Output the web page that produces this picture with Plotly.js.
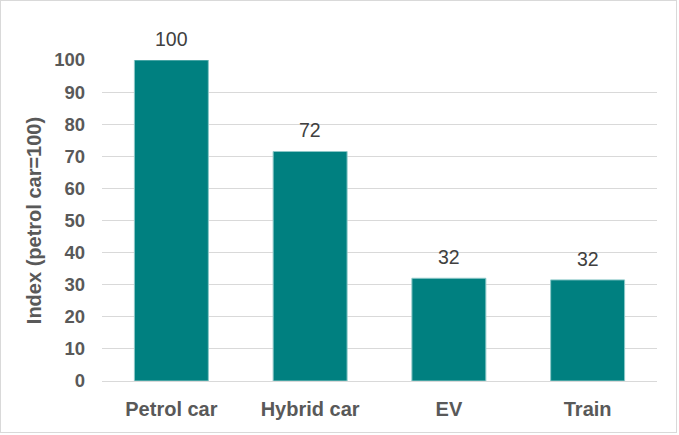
<!DOCTYPE html>
<html>
<head>
<meta charset="utf-8">
<script src="https://cdn.plot.ly/plotly-3.0.1.min.js"></script>
<style>
  html, body { margin: 0; padding: 0; background: #ffffff; }
  #frame { position: absolute; left: 0; top: 0; width: 675px; height: 431px; border: 1px solid #d9d9d9; }
  #chart { width: 675px; height: 431px; }
</style>
</head>
<body>
<div id="frame"><div id="chart"></div></div>
<script>
const categories = ["Petrol car", "Hybrid car", "EV", "Train"];
const indexValues = [100, 71.5, 32.0, 31.5];
const valueLabels = ["100", "72", "32", "32"];
const yTicks = [0, 10, 20, 30, 40, 50, 60, 70, 80, 90, 100];

const trace = {
  type: "bar",
  x: categories,
  y: indexValues,
  marker: { color: "#008080", line: { color: "#8cc8c8", width: 1 } },
  hoverinfo: "x+y"
};

const annotations = categories.map((c, i) => ({
  x: c, y: indexValues[i], xref: "x", yref: "y",
  text: valueLabels[i], showarrow: false,
  yanchor: "bottom", yshift: 8,
  font: { family: "Liberation Sans, Arial, sans-serif", size: 19.5, color: "#404040" }
}));

const layout = {
  width: 675, height: 431,
  margin: { l: 101, r: 19, t: 59, b: 51 },
  paper_bgcolor: "#ffffff",
  plot_bgcolor: "#ffffff",
  showlegend: false,
  bargap: 0.467,
  font: { family: "Liberation Sans, Arial, sans-serif", color: "#595959" },
  xaxis: {
    type: "category",
    showgrid: false,
    showline: true, linecolor: "#d9d9d9", linewidth: 1,
    ticks: "", ticklabelstandoff: 10,
    tickfont: { size: 20, color: "#595959", weight: "bold" },
    fixedrange: true
  },
  yaxis: {
    range: [0, 100],
    tickvals: yTicks,
    showgrid: true, gridcolor: "#d9d9d9", gridwidth: 1,
    zeroline: true, zerolinecolor: "#d9d9d9", zerolinewidth: 1,
    showline: false,
    ticks: "", ticklabelstandoff: 16,
    tickfont: { size: 18.5, color: "#595959", weight: "bold" },
    title: { text: "Index (petrol car=100)", standoff: 7,
             font: { size: 20, color: "#595959", weight: "bold" } },
    fixedrange: true
  },
  annotations: annotations
};

Plotly.newPlot("chart", [trace], layout, { displayModeBar: false, staticPlot: true });
</script>
</body>
</html>
